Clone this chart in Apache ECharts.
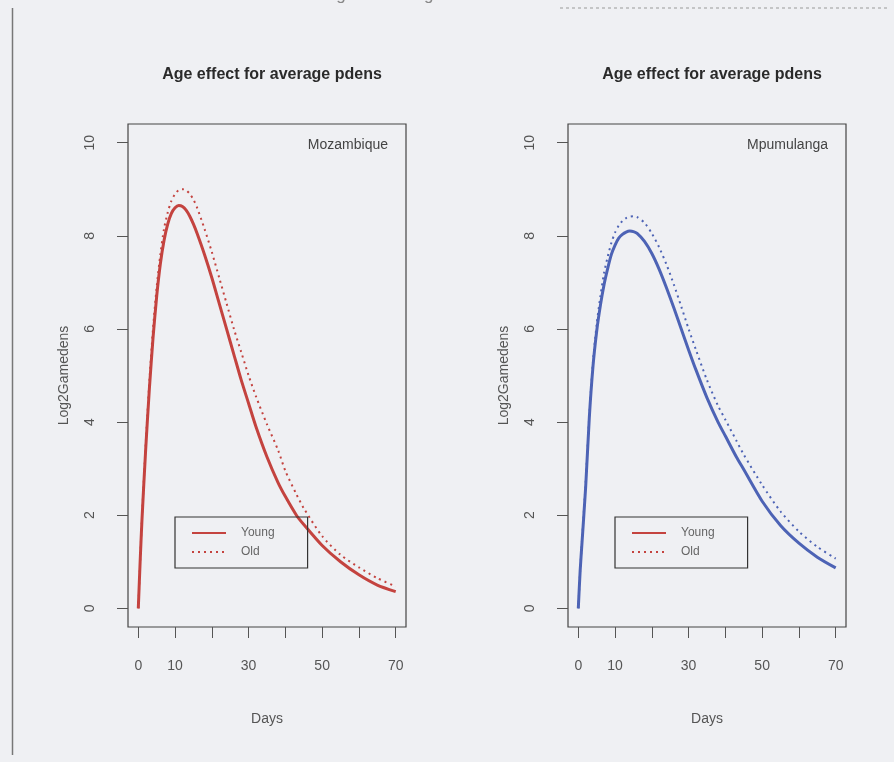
<!DOCTYPE html>
<html>
<head>
<meta charset="utf-8">
<script src="https://cdn.jsdelivr.net/npm/echarts@6/dist/echarts.min.js"></script>
<style>
  html, body { margin: 0; padding: 0; background: #eff0f3; }
  #chart { width: 894px; height: 762px; }
</style>
</head>
<body>
<div id="chart"></div>
<script>
// Sampling days shared by all four curves
const days = [0, 0.5, 1, 2, 3, 4, 5, 6, 7, 8, 9, 10, 11, 12, 13, 14, 15, 16,
  18, 20, 22, 24, 26, 28, 30, 32, 35, 38, 40, 43, 45, 50, 55, 60, 65, 70];

// Mozambique: log2 gametocyte density by age group
const mozYoung = [0, 1.0, 1.9, 3.4, 4.7, 5.8, 6.7, 7.4, 7.9, 8.25, 8.48, 8.6, 8.65, 8.63, 8.55, 8.42, 8.25, 8.05,
  7.6, 7.1, 6.55, 6.0, 5.45, 4.9, 4.4, 3.9, 3.25, 2.7, 2.4, 2.0, 1.8, 1.35, 1.0, 0.72, 0.5, 0.36];
const mozOld = [0, 1.0, 1.95, 3.5, 4.85, 6.0, 6.9, 7.6, 8.15, 8.5, 8.75, 8.9, 8.98, 9.0, 8.98, 8.9, 8.78, 8.6,
  8.15, 7.65, 7.1, 6.55, 6.0, 5.5, 5.0, 4.55, 3.95, 3.4, 2.95, 2.45, 2.15, 1.55, 1.15, 0.88, 0.65, 0.47];

// Mpumulanga: log2 gametocyte density by age group
const mpuYoung = [0, 0.8, 1.4, 2.6, 4.1, 5.2, 5.95, 6.5, 6.95, 7.3, 7.6, 7.8, 7.95, 8.03, 8.08, 8.1, 8.09, 8.05,
  7.88, 7.62, 7.28, 6.88, 6.45, 6.0, 5.55, 5.12, 4.52, 4.0, 3.7, 3.25, 2.98, 2.3, 1.78, 1.4, 1.1, 0.87];
const mpuOld = [0, 0.8, 1.45, 2.7, 4.15, 5.3, 6.1, 6.7, 7.2, 7.55, 7.85, 8.07, 8.22, 8.32, 8.38, 8.41, 8.42, 8.4,
  8.28, 8.05, 7.75, 7.38, 6.95, 6.48, 6.0, 5.55, 4.9, 4.35, 4.05, 3.6, 3.3, 2.65, 2.08, 1.65, 1.32, 1.07];

// Axis ticks and labels
const xTicks = [0, 10, 20, 30, 40, 50, 60, 70];
const xLabels = [0, 10, 30, 50, 70];
const yTicks = [0, 2, 4, 6, 8, 10];

const panelTitle = 'Age effect for average pdens';
const regions = ['Mozambique', 'Mpumulanga'];
const groupNames = ['Young', 'Old'];
const figureCaption = 'Figure 3.10 Age effect';

const FONT = '"Liberation Sans", Arial, sans-serif';
const RED = '#c4433f';
const BLUE = '#4d63b5';

const pair = (xs, ys) => xs.map((d, i) => [d, ys[i]]);

function makeX(idx) {
  return {
    gridIndex: idx, type: 'value', min: -2.8, max: 72.8,
    name: 'Days', nameLocation: 'middle', nameGap: 85,
    nameTextStyle: { fontFamily: FONT, fontSize: 14, color: '#555' },
    axisLine: { show: false, onZero: false },
    axisTick: { show: true, length: 11, customValues: xTicks, lineStyle: { color: '#555', width: 1 } },
    axisLabel: { customValues: xLabels, margin: 32, fontFamily: FONT, fontSize: 14, color: '#555' },
    splitLine: { show: false }
  };
}
function makeY(idx) {
  return {
    gridIndex: idx, type: 'value', min: -0.4, max: 10.4,
    name: 'Log2Gamedens', nameLocation: 'middle', nameGap: 57,
    nameTextStyle: { fontFamily: FONT, fontSize: 14, color: '#555' },
    axisLine: { show: false, onZero: false },
    axisTick: { show: true, length: 11, customValues: yTicks, lineStyle: { color: '#555', width: 1 } },
    axisLabel: { customValues: yTicks, rotate: 90, margin: 31, fontFamily: FONT, fontSize: 14, color: '#555' },
    splitLine: { show: false }
  };
}
function makeSeries(name, idx, data, color, dotted) {
  return {
    name: name, type: 'line', xAxisIndex: idx, yAxisIndex: idx,
    data: data, symbol: 'none', smooth: 0.25,
    lineStyle: dotted ? { color: color, width: 2, type: [2, 4] } : { color: color, width: 3 },
    itemStyle: { color: color },
    z: dotted ? 2 : 3
  };
}
function makeLegend(idx, left) {
  return {
    data: groupNames.map(n => ({ name: n })),
    seriesIndex: [idx * 2, idx * 2 + 1],
    orient: 'vertical', left: left, top: 517,
    itemWidth: 34, itemHeight: 10, itemGap: 7,
    padding: [10, 33, 10, 16],
    borderColor: '#333', borderWidth: 1.2, borderRadius: 0,
    backgroundColor: 'transparent',
    itemStyle: { opacity: 0 },
    textStyle: { fontFamily: FONT, fontSize: 12, color: '#666', padding: [0, 0, 0, 10] },
    selectedMode: false
  };
}

const chart = echarts.init(document.getElementById('chart'), null, { renderer: 'canvas' });

const option = {
  backgroundColor: '#eff0f3',
  animation: false,
  title: [
    { text: panelTitle, left: 267, top: 62, textAlign: 'center',
      textStyle: { fontFamily: FONT, fontSize: 16, fontWeight: 'bold', color: '#2a2a2a' } },
    { text: panelTitle, left: 707, top: 62, textAlign: 'center',
      textStyle: { fontFamily: FONT, fontSize: 16, fontWeight: 'bold', color: '#2a2a2a' } },
    { text: regions[0], left: 383, top: 133, textAlign: 'right',
      textStyle: { fontFamily: FONT, fontSize: 14, fontWeight: 'normal', color: '#444' } },
    { text: regions[1], left: 823, top: 133, textAlign: 'right',
      textStyle: { fontFamily: FONT, fontSize: 14, fontWeight: 'normal', color: '#444' } }
  ],
  grid: [
    { left: 128, top: 124, width: 278, height: 503, show: true, borderColor: '#444', borderWidth: 1.2, backgroundColor: 'transparent' },
    { left: 568, top: 124, width: 278, height: 503, show: true, borderColor: '#444', borderWidth: 1.2, backgroundColor: 'transparent' }
  ],
  xAxis: [makeX(0), makeX(1)],
  yAxis: [makeY(0), makeY(1)],
  legend: [makeLegend(0, 175), makeLegend(1, 615)],
  series: [
    makeSeries(groupNames[0], 0, pair(days, mozYoung), RED, false),
    makeSeries(groupNames[1], 0, pair(days, mozOld), RED, true),
    makeSeries(groupNames[0], 1, pair(days, mpuYoung), BLUE, false),
    makeSeries(groupNames[1], 1, pair(days, mpuOld), BLUE, true)
  ],
  graphic: [
    // page margin rule and running header of the scanned page
    { type: 'line', shape: { x1: 12.5, y1: 8, x2: 12.5, y2: 755 }, style: { stroke: '#777', lineWidth: 1.5 } },
    { type: 'line', shape: { x1: 560, y1: 8, x2: 890, y2: 8 }, style: { stroke: '#999', lineWidth: 1, lineDash: [3, 3] } },
    { type: 'text', left: 322, top: -13, style: { text: figureCaption, font: '17px ' + FONT, fill: '#888' } }
  ]
};

chart.setOption(option);
</script>
</body>
</html>
